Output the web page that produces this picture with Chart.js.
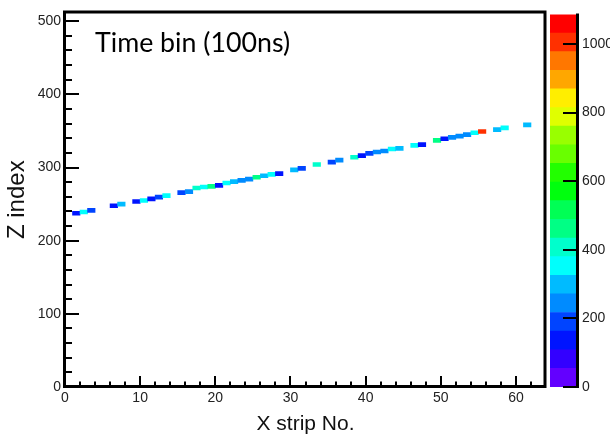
<!DOCTYPE html>
<html><head><meta charset="utf-8">
<script src="https://cdn.jsdelivr.net/npm/chart.js@4/dist/chart.umd.min.js"></script>
<style>
html,body{margin:0;padding:0;background:#fff;}
#wrap{position:relative;width:610px;height:435px;overflow:hidden;background:#fff;}
#main{position:absolute;left:0;top:0;}
#cbar{position:absolute;left:548px;top:0;}
</style></head><body>
<div id="wrap">
<canvas id="main" width="550" height="435"></canvas>
<canvas id="cbar" width="62" height="435"></canvas>
</div>
<script>
// ---- data ----
const stripBins = [1,2,3,6,7,9,10,11,12,13,15,16,17,18,19,20,21,22,23,24,25,26,27,28,30,31,33,35,36,38,39,40,41,42,43,44,46,47,49,50,51,52,53,54,55,57,58,61];
const zIndex = [237.5,239.2,241.3,247.7,250,253.5,254.9,257.2,259.6,261.6,265.7,267,272,273.4,274.1,275.7,278.8,280.6,282.5,284.2,286.7,288.7,290.6,291.7,296.8,298.9,304.1,307.3,310,314,316.3,319.4,321.2,322.6,325.3,326.2,330.3,331.2,337,339.3,341.1,342.9,344.9,347.5,349.2,351.9,354.2,358.3];
const counts = [135,350,190,135,300,135,350,135,190,350,190,245,405,350,460,135,350,300,245,245,460,300,350,135,300,190,405,190,245,405,135,190,245,245,350,300,350,135,460,135,245,245,245,350,1000,300,350,300];
const xTicks = [0,10,20,30,40,50,60];
const zTicks = [0,100,200,300,400,500];
const colorTicks = [0,200,400,600,800,1000];
const xRange = [0,64];
const zRange = [0,512];
const colorMax = 1086;
const xMinorStep = 2;
const zMinorStep = 20;
const cellHeight = 5.5;
const palette = ['#6300ff','#3300ff','#0014ff','#0044ff','#008bff','#00bbff','#00fffc','#00ffcc','#00ff85','#00ff55',
                 '#00ff0e','#22ff00','#69ff00','#99ff00','#e0ff00','#ffee00','#ffa700','#ff7700','#ff3000','#ff0000'];
const overlayText = 'Time bin (100ns)';
const xTitle = 'X strip No.';
const yTitle = 'Z index';

const FONT = "'Liberation Sans', Arial, Helvetica, sans-serif";
const bandWidth = colorMax / palette.length;
function colorFor(v){ return palette[Math.max(0, Math.min(palette.length-1, Math.floor(v / bandWidth)))]; }
const plainLabel = v => String(v);

const mainPlugin = {
  id: 'rootFrame',
  afterDatasetsDraw(chart) {
    const {ctx, chartArea: a, scales: {x, y}} = chart;
    ctx.save();
    ctx.strokeStyle = '#000';
    ctx.lineWidth = 2;
    for (let v = xRange[0]; v < xRange[1]; v += xMinorStep) {
      const px = Math.round(x.getPixelForValue(v));
      const len = xTicks.includes(v) ? 11 : 5.5;
      ctx.beginPath(); ctx.moveTo(px, a.bottom); ctx.lineTo(px, a.bottom - len); ctx.stroke();
    }
    for (let v = zRange[0]; v < zRange[1]; v += zMinorStep) {
      const py = Math.round(y.getPixelForValue(v));
      const len = zTicks.includes(v) ? 14 : 7;
      ctx.beginPath(); ctx.moveTo(a.left, py); ctx.lineTo(a.left + len, py); ctx.stroke();
    }
    ctx.lineWidth = 3;
    ctx.beginPath();
    ctx.moveTo(a.left - 0.5, a.top - 2); ctx.lineTo(a.left - 0.5, a.bottom + 1);
    ctx.moveTo(a.left - 2, a.bottom - 0.5); ctx.lineTo(a.right, a.bottom - 0.5);
    ctx.moveTo(a.left - 2, a.top - 0.5); ctx.lineTo(a.right, a.top - 0.5);
    ctx.moveTo(a.right - 1, a.top - 2); ctx.lineTo(a.right - 1, a.bottom + 1);
    ctx.stroke();
    // overlay label
    let size = 26;
    ctx.font = size + "px Lato, 'Open Sans', sans-serif";
    size = size * 195 / ctx.measureText(overlayText).width;
    ctx.font = size.toFixed(2) + "px Lato, 'Open Sans', sans-serif";
    ctx.fillStyle = '#000';
    ctx.textBaseline = 'alphabetic';
    ctx.textAlign = 'left';
    ctx.fillText(overlayText, 95, 52);
    ctx.restore();
  }
};

new Chart(document.getElementById('main'), {
  type: 'bar',
  data: {
    datasets: [{
      data: stripBins.map((b, i) => ({x: b + 0.5, y: [zIndex[i] - cellHeight/2, zIndex[i] + cellHeight/2]})),
      backgroundColor: counts.map(colorFor),
      borderWidth: 0,
      barPercentage: 1,
      categoryPercentage: 1
    }]
  },
  options: {
    responsive: false,
    animation: false,
    devicePixelRatio: 1,
    layout: {padding: {top: 8, right: 4, left: 0, bottom: 0}},
    plugins: {legend: {display: false}, tooltip: {enabled: false}},
    scales: {
      x: {
        type: 'linear', min: xRange[0], max: xRange[1], offset: false,
        grid: {display: false, drawTicks: false}, border: {display: false},
        afterBuildTicks: s => { s.ticks = xTicks.map(v => ({value: v})); },
        afterFit: s => { s.height = 48; },
        ticks: {font: {family: FONT, size: 14}, color: '#222', padding: 3, maxRotation: 0, autoSkip: false, callback: plainLabel},
        title: {display: true, text: xTitle, font: {family: FONT, size: 21}, color: '#111', padding: {top: 0, bottom: -2}}
      },
      y: {
        type: 'linear', min: zRange[0], max: zRange[1],
        grid: {display: false, drawTicks: false}, border: {display: false},
        afterBuildTicks: s => { s.ticks = zTicks.map(v => ({value: v})); },
        afterFit: s => { s.width = 65; },
        ticks: {font: {family: FONT, size: 14}, color: '#222', padding: 4, callback: plainLabel},
        title: {display: true, text: yTitle, font: {family: FONT, size: 24}, color: '#111', padding: {top: 2.6, bottom: 0}}
      }
    }
  },
  plugins: [mainPlugin]
});

const cbarPlugin = {
  id: 'cbarAxis',
  afterDatasetsDraw(chart) {
    const {ctx, chartArea: a, scales: {y}} = chart;
    ctx.save();
    ctx.strokeStyle = '#000';
    ctx.lineWidth = 2;
    colorTicks.forEach(v => {
      const py = Math.round(y.getPixelForValue(v));
      ctx.beginPath(); ctx.moveTo(a.right + 1, py); ctx.lineTo(a.right - 13, py); ctx.stroke();
    });
    ctx.lineWidth = 3;
    ctx.beginPath(); ctx.moveTo(a.right + 1.5, a.top - 1); ctx.lineTo(a.right + 1.5, a.bottom + 1); ctx.stroke();
    ctx.restore();
  }
};

new Chart(document.getElementById('cbar'), {
  type: 'bar',
  data: {
    labels: [''],
    datasets: palette.map(c => ({data: [bandWidth], backgroundColor: c, borderWidth: 0, barPercentage: 1, categoryPercentage: 1}))
  },
  options: {
    responsive: false,
    animation: false,
    devicePixelRatio: 1,
    layout: {padding: {top: 8, right: 0, left: 2, bottom: 48}},
    plugins: {legend: {display: false}, tooltip: {enabled: false}},
    scales: {
      x: {display: false, stacked: true},
      y: {
        position: 'right', stacked: true, min: 0, max: colorMax,
        grid: {display: false, drawTicks: false}, border: {display: false},
        afterBuildTicks: s => { s.ticks = colorTicks.map(v => ({value: v})); },
        afterFit: s => { s.width = 34; },
        ticks: {font: {family: FONT, size: 14}, color: '#222', padding: 6, callback: plainLabel}
      }
    }
  },
  plugins: [cbarPlugin]
});
</script>
</body></html>
